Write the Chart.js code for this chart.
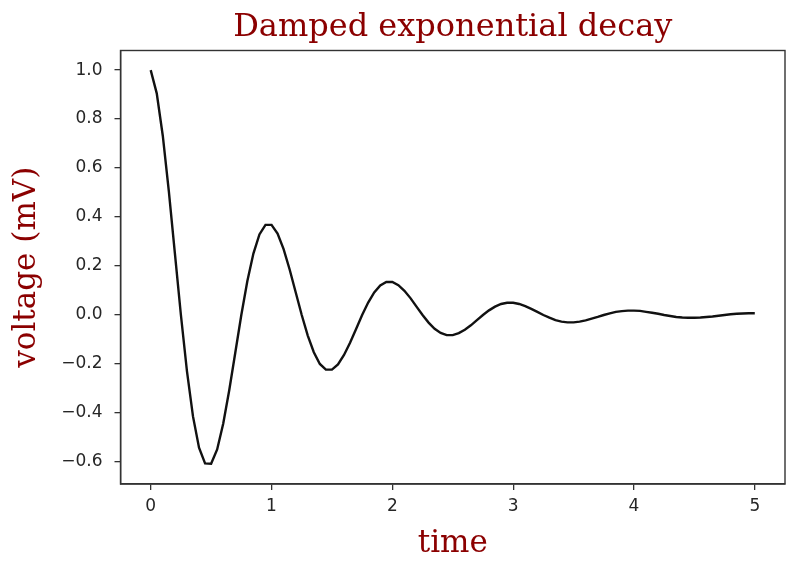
<!DOCTYPE html>
<html>
<head>
<meta charset="utf-8">
<script src="https://cdn.jsdelivr.net/npm/chart.js@4/dist/chart.umd.min.js"></script>
<style>
html,body{margin:0;padding:0;background:#fff;}
#wrap{width:799px;height:573px;position:relative;}
</style>
</head>
<body>
<div id="wrap"><canvas id="c" width="799" height="573"></canvas></div>
<script>
const titleText = "Damped exponential decay";
const xLabel = "time";
const yLabel = "voltage (mV)";
const xTicks = [0, 1, 2, 3, 4, 5];
const yTicks = [-0.6, -0.4, -0.2, 0.0, 0.2, 0.4, 0.6, 0.8, 1.0];
const times = [
  0.00,0.05,0.10,0.15,0.20,0.25,0.30,0.35,0.40,0.45,
  0.50,0.55,0.60,0.65,0.70,0.75,0.80,0.85,0.90,0.95,
  1.00,1.05,1.10,1.15,1.20,1.25,1.30,1.35,1.40,1.45,
  1.50,1.55,1.60,1.65,1.70,1.75,1.80,1.85,1.90,1.95,
  2.00,2.05,2.10,2.15,2.20,2.25,2.30,2.35,2.40,2.45,
  2.50,2.55,2.60,2.65,2.70,2.75,2.80,2.85,2.90,2.95,
  3.00,3.05,3.10,3.15,3.20,3.25,3.30,3.35,3.40,3.45,
  3.50,3.55,3.60,3.65,3.70,3.75,3.80,3.85,3.90,3.95,
  4.00,4.05,4.10,4.15,4.20,4.25,4.30,4.35,4.40,4.45,
  4.50,4.55,4.60,4.65,4.70,4.75,4.80,4.85,4.90,4.95,
  5.00
];
const voltages = [
  1.000,0.905,0.732,0.506,0.253,0.000,-0.229,-0.414,-0.542,-0.606,
  -0.607,-0.549,-0.444,-0.307,-0.154,0.000,0.139,0.251,0.329,0.368,
  0.368,0.333,0.269,0.186,0.093,0.000,-0.084,-0.152,-0.200,-0.223,
  -0.223,-0.202,-0.163,-0.113,-0.057,0.000,0.051,0.092,0.121,0.135,
  0.135,0.122,0.099,0.069,0.034,0.000,-0.031,-0.056,-0.073,-0.082,
  -0.082,-0.074,-0.060,-0.042,-0.021,0.000,0.019,0.034,0.045,0.050,
  0.050,0.045,0.036,0.025,0.013,0.000,-0.011,-0.021,-0.027,-0.030,
  -0.030,-0.027,-0.022,-0.015,-0.008,0.000,0.007,0.013,0.016,0.018,
  0.018,0.017,0.013,0.009,0.005,0.000,-0.004,-0.008,-0.010,-0.011,
  -0.011,-0.010,-0.008,-0.006,-0.003,0.000,0.003,0.005,0.006,0.007,
  0.007
];

const points = times.map((t, i) => ({x: t, y: voltages[i]}));
const red = '#8b0000';
const tickColor = '#262626';
const frameColor = '#333333';

const framePlugin = {
  id: 'frame',
  afterDatasetsDraw(chart) {
    const {ctx, chartArea: a} = chart;
    ctx.save();
    ctx.strokeStyle = frameColor;
    ctx.lineWidth = 1.4;
    ctx.strokeRect(a.left, a.top, a.right - a.left, a.bottom - a.top);
    ctx.restore();
  }
};

new Chart(document.getElementById('c'), {
  type: 'line',
  data: {
    datasets: [{
      data: points,
      borderColor: '#111111',
      borderWidth: 2.4,
      pointRadius: 0,
      tension: 0,
      fill: false
    }]
  },
  options: {
    responsive: false,
    animation: false,
    devicePixelRatio: 1,
    layout: {padding: {left: 0, right: 14, top: 0, bottom: 0}},
    plugins: {
      legend: {display: false},
      tooltip: {enabled: false},
      title: {
        display: true,
        fullSize: false,
        text: titleText,
        color: red,
        font: {family: 'DejaVu Serif', size: 32, weight: 'normal', lineHeight: 1.2},
        padding: {top: 8, bottom: 4.1}
      }
    },
    scales: {
      x: {
        type: 'linear',
        min: -0.25,
        max: 5.25,
        afterBuildTicks(scale) { scale.ticks = xTicks.map(v => ({value: v})); },
        afterFit(scale) { scale.height = 573 - 484; },
        grid: {display: true, drawOnChartArea: false, drawTicks: true, tickLength: 6, color: frameColor, lineWidth: 1.3},
        border: {display: true, color: frameColor, width: 1.4},
        ticks: {
          color: tickColor,
          font: {family: 'DejaVu Sans', size: 17},
          padding: 6,
          maxRotation: 0,
          callback: v => String(v)
        },
        title: {
          display: true,
          text: xLabel,
          color: red,
          font: {family: 'DejaVu Serif', size: 31, lineHeight: 1.2},
          padding: {top: 0, bottom: 10}
        }
      },
      y: {
        type: 'linear',
        min: -0.69,
        max: 1.08,
        afterBuildTicks(scale) { scale.ticks = yTicks.map(v => ({value: v})); },
        afterFit(scale) { scale.width = 120.5; },
        grid: {display: true, drawOnChartArea: false, drawTicks: true, tickLength: 6, color: frameColor, lineWidth: 1.3},
        border: {display: true, color: frameColor, width: 1.4},
        ticks: {
          color: tickColor,
          font: {family: 'DejaVu Sans', size: 17},
          padding: 12,
          callback: v => v.toFixed(1).replace('-', '\u2212')
        },
        title: {
          display: true,
          text: yLabel,
          color: red,
          font: {family: 'DejaVu Serif', size: 31, lineHeight: 1.2},
          padding: {top: 8, bottom: 0}
        }
      }
    }
  },
  plugins: [framePlugin]
});
</script>
</body>
</html>
